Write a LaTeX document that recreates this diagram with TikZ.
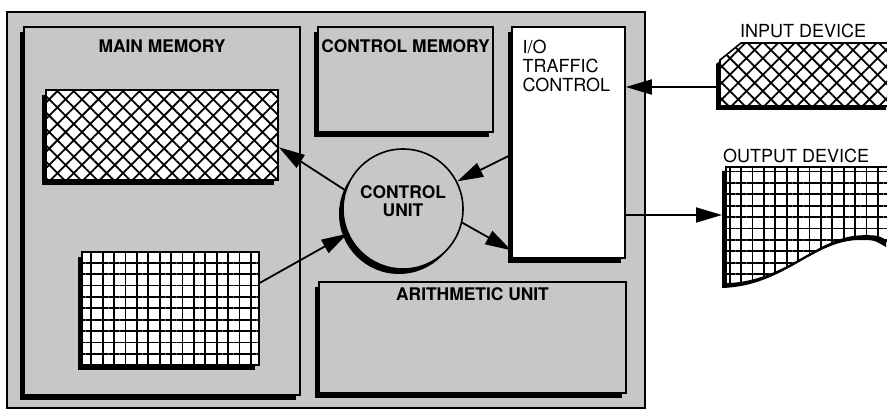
\documentclass[tikz,border=0pt]{standalone}
\usepackage{fontspec}
\setsansfont{TeX Gyre Heros}
\usetikzlibrary{arrows.meta,positioning,shadows,patterns.meta}
\definecolor{screen}{gray}{0.78}

\tikzset{
  box/.style={draw,line width=0.8pt,fill=screen,inner sep=0pt,
    drop shadow={shadow xshift=-2pt,shadow yshift=-2.5pt,fill=black,opacity=1}},
  crossed/.style={preaction={fill=white},
    pattern={Hatch[angle=45,distance=5.8pt,line width=0.9pt]}},
  gridded/.style={preaction={fill=white},
    pattern={Hatch[angle=0,distance=5.7pt,line width=0.9pt]}},
  bold/.style={font=\sffamily\bfseries\fontsize{8.7}{8.7}\selectfont,inner sep=0pt},
  plain/.style={font=\sffamily\fontsize{9}{9.5}\selectfont,inner sep=0pt},
  link/.style={->,line width=0.9pt}
}

\begin{document}
\begin{tikzpicture}[x=0.5pt,y=-0.5pt,>={Triangle[length=13pt,width=7.5pt]}]
\clip (0,0) rectangle (887,411);
\def\inshape{(741,43) -- (890,43) -- (890,106) -- (720,106) -- (720,60) -- cycle}
\def\outshape{(726,167) -- (890,167) -- (890,243) .. controls (878,236) .. (864,236)
  .. controls (817,236) and (789,282) .. (726,284) -- cycle}

% the computer
\draw[line width=0.8pt,fill=screen] (7,12) rectangle (645,408);

% main memory
\node[box,minimum width=138pt,minimum height=184pt] (mainmem) at (162,211) {};
\node[bold,below=6.5pt of mainmem.north] (mainlbl) {MAIN MEMORY};
\node[box,crossed,minimum width=116pt,minimum height=45pt] (xmem) at (162,135) {};
\node[box,gridded,minimum width=88.5pt,minimum height=56.5pt] (gmem) at (170.5,308.5) {};

% control memory, arithmetic unit, traffic control
\node[box,minimum width=87.5pt,minimum height=52.5pt] (ctrlmem) at (405.5,79.5) {};
\node[bold,below=6.5pt of ctrlmem.north] (ctrllbl) {CONTROL MEMORY};
\node[box,minimum width=153.5pt,minimum height=55.5pt] (arith) at (472.5,337.5) {};
\node[bold,below=3pt of arith.north] (arithlbl) {ARITHMETIC UNIT};
\node[box,fill=white,minimum width=56.5pt,minimum height=115.5pt] (io) at (568.5,142.5) {};
\node[plain,align=left,below right=6.5pt and 5.5pt of io.north west] (iolbl)
  {I/O\\TRAFFIC\\CONTROL};

% control unit
\node[box,circle,minimum size=60pt] (cu) at (403,209) {};
\node[bold,align=center] (culbl) at ([yshift=4pt]cu.center) {CONTROL\\UNIT};

% devices
\fill[shift={(-4,4)}] \inshape;
\draw[line width=0.8pt,crossed] \inshape;
\node[plain] (inlbl) at (803,31) {INPUT DEVICE};
\coordinate (inp) at (716,87);

\fill[shift={(-4,4)}] \outshape;
\draw[line width=0.8pt,gridded] \outshape;
\node[plain] (outlbl) at (796,156) {OUTPUT DEVICE};
\coordinate (outp) at (722,215);

% data paths
\draw[link] (cu.162) -- (xmem.-6);
\draw[link] (gmem.16) -- (cu.204);
\draw[link] (io.192) -- (cu.27);
\draw[link] (cu.-13) -- (io.242);
\draw[link] (inp) -- (inp -| io.east);
\draw[link] (outp -| io.east) -- (outp);
\end{tikzpicture}
\end{document}
